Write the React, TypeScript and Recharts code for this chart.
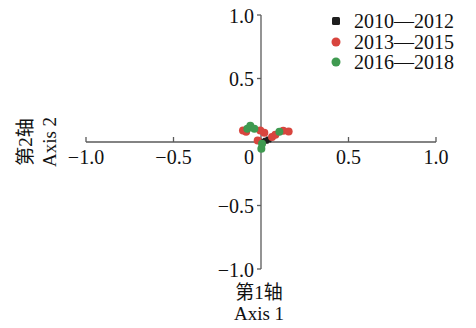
import React from 'react';
import { ScatterChart, Scatter, XAxis, YAxis, ReferenceLine, ReferenceDot } from 'recharts';

// Ordination scores per period (Axis 1, Axis 2)
const period1Axis1 = [0.043, 0.028, 0.012];
const period1Axis2 = [0.020, 0.010, 0.002];

const period2Axis1 = [-0.103, -0.085, -0.004, 0.019, -0.019, 0.063, 0.082, 0.127, 0.158];
const period2Axis2 = [0.091, 0.080, 0.091, 0.072, 0.012, 0.039, 0.057, 0.088, 0.083];

const period3Axis1 = [-0.078, -0.061, -0.038, 0.006, 0.002, 0.105];
const period3Axis2 = [0.104, 0.128, 0.104, -0.014, -0.054, 0.080];

const seriesNames = ['2010—2012', '2013—2015', '2016—2018'];
const seriesColors = ['#1e1e1e', '#d8453e', '#3f9a50'];

const xTickValues = [-1, -0.5, 0, 0.5, 1];
const xTickLabels = ['−1.0', '−0.5', '0', '0.5', '1.0'];
const yTickValues = [-1, -0.5, 0.5, 1];
const yTickLabels = ['−1.0', '−0.5', '0.5', '1.0'];

const axis1Titles = ['第1轴', 'Axis 1'];
const axis2Titles = ['第2轴', 'Axis 2'];

const toPoints = (xs: number[], ys: number[]) => xs.map((x, i) => ({ x, y: ys[i] }));
const period1 = toPoints(period1Axis1, period1Axis2);
const period2 = toPoints(period2Axis1, period2Axis2);
const period3 = toPoints(period3Axis1, period3Axis2);

const FONT = "'Liberation Serif', 'Noto Sans CJK SC', serif";
const AXIS_COLOR = '#5a5a5a';

const circleShape = (color: string) => (p: any) => (
  <circle cx={p.cx} cy={p.cy} r={4} fill={color} />
);
const squareShape = (color: string) => (p: any) => (
  <rect x={p.cx - 3} y={p.cy - 3} width={6} height={6} rx={1} fill={color} />
);

// Period key in the top-right corner
const PeriodKey = () => (
  <div style={{ position: 'absolute', left: 321, top: 11, fontFamily: FONT, fontSize: 20, color: '#111' }}>
    {seriesNames.map((name, i) => (
      <div key={i} style={{ display: 'flex', alignItems: 'center', height: 20.5, lineHeight: '20px' }}>
        <svg width={14} height={14} style={{ marginRight: 11 }}>
          {i === 0 ? (
            <rect x={3} y={3} width={8} height={8} rx={1.5} fill={seriesColors[i]} />
          ) : (
            <circle cx={7} cy={7} r={4.5} fill={seriesColors[i]} />
          )}
        </svg>
        <span>{name}</span>
      </div>
    ))}
  </div>
);

export default function App() {
  return (
    <div style={{ position: 'relative', width: 460, height: 320, marginTop: -8 }}>
      <ScatterChart
        width={460}
        height={328}
        margin={{ top: 15, right: 32, bottom: 59, left: 78 }}
        style={{ overflow: 'visible' }}
      >
        <XAxis type="number" dataKey="x" domain={[-1, 1]} hide />
        <YAxis type="number" dataKey="y" domain={[-1, 1]} hide />

        <ReferenceLine y={0} stroke={AXIS_COLOR} strokeWidth={1.3} />
        <ReferenceLine x={0} stroke={AXIS_COLOR} strokeWidth={1.3} />

        {xTickValues.map((v, i) => (
          <ReferenceDot
            key={'xt' + i}
            x={v}
            y={0}
            r={0}
            ifOverflow="visible"
            shape={(p: any) => (
              <g>
                {v !== 0 && (
                  <line x1={p.cx} y1={p.cy} x2={p.cx} y2={p.cy - 5} stroke={AXIS_COLOR} strokeWidth={1.3} />
                )}
                <text
                  x={p.cx + (v === 0 ? -12 : 0)}
                  y={p.cy + 22}
                  textAnchor="middle"
                  fontFamily={FONT}
                  fontSize={20}
                  fill="#111"
                >
                  {xTickLabels[i]}
                </text>
              </g>
            )}
          />
        ))}

        {yTickValues.map((v, i) => (
          <ReferenceDot
            key={'yt' + i}
            x={0}
            y={v}
            r={0}
            ifOverflow="visible"
            shape={(p: any) => (
              <g>
                <line x1={p.cx} y1={p.cy} x2={p.cx - 4} y2={p.cy} stroke={AXIS_COLOR} strokeWidth={1.3} />
                <text x={p.cx - 7} y={p.cy + 7.5} textAnchor="end" fontFamily={FONT} fontSize={20} fill="#111">
                  {yTickLabels[i]}
                </text>
              </g>
            )}
          />
        ))}

        <ReferenceDot
          x={0}
          y={-1}
          r={0}
          ifOverflow="visible"
          shape={(p: any) => (
            <g fontFamily={FONT} fontSize={19} fill="#111" textAnchor="middle">
              <text x={p.cx - 2} y={p.cy + 30}>{axis1Titles[0]}</text>
              <text x={p.cx - 2} y={p.cy + 51}>{axis1Titles[1]}</text>
            </g>
          )}
        />
        <ReferenceDot
          x={-1}
          y={0}
          r={0}
          ifOverflow="visible"
          shape={(p: any) => (
            <g fontFamily={FONT} fontSize={19} fill="#111" textAnchor="middle">
              <text transform={`translate(${p.cx - 54},${p.cy}) rotate(-90)`}>{axis2Titles[0]}</text>
              <text transform={`translate(${p.cx - 30},${p.cy}) rotate(-90)`}>{axis2Titles[1]}</text>
            </g>
          )}
        />

        <Scatter name={seriesNames[0]} data={period1} fill={seriesColors[0]} shape={squareShape(seriesColors[0])} isAnimationActive={false} />
        <Scatter name={seriesNames[1]} data={period2} fill={seriesColors[1]} shape={circleShape(seriesColors[1])} isAnimationActive={false} />
        <Scatter name={seriesNames[2]} data={period3} fill={seriesColors[2]} shape={circleShape(seriesColors[2])} isAnimationActive={false} />
      </ScatterChart>
      <PeriodKey />
    </div>
  );
}
